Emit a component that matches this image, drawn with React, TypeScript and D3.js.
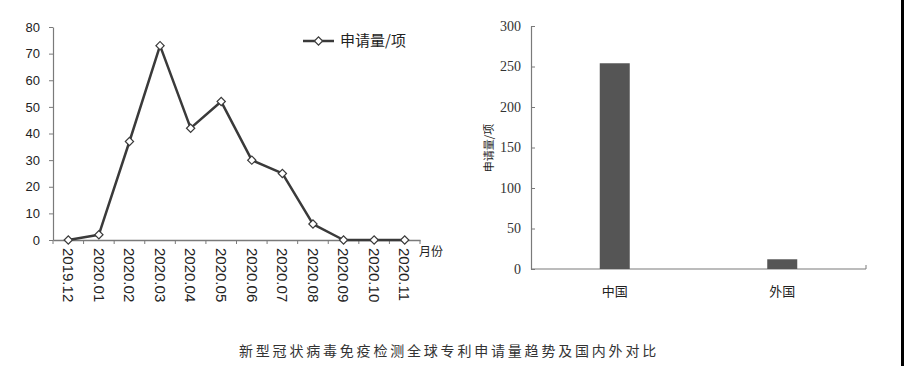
import { useEffect, useRef } from "react";
import * as d3 from "d3";

// monthly application counts (left chart)
const months = [
  "2019.12", "2020.01", "2020.02", "2020.03", "2020.04", "2020.05",
  "2020.06", "2020.07", "2020.08", "2020.09", "2020.10", "2020.11",
];
const counts = [0, 2, 37, 73, 42, 52, 30, 25, 6, 0, 0, 0];
const lineTicks = [0, 10, 20, 30, 40, 50, 60, 70, 80];

// domestic vs foreign (right chart)
const regions = ["中国", "外国"];
const regionCounts = [254, 12];
const barTicks = [0, 50, 100, 150, 200, 250, 300];

const seriesName = "申请量/项";
const caption = "新型冠状病毒免疫检测全球专利申请量趋势及国内外对比";

const W = 904;
const H = 366;
const SANS = "'Liberation Sans', 'Noto Sans CJK SC', sans-serif";
const CJK = "'Noto Sans CJK SC', sans-serif";
const SERIF = "'Liberation Serif', serif";

export default function App() {
  const svgRef = useRef<SVGSVGElement>(null);

  useEffect(() => {
    const svg = d3.select(svgRef.current!);
    svg.selectAll("*").remove();

    svg.append("rect").attr("width", W).attr("height", H).attr("fill", "#fff");
    svg.append("rect").attr("x", 901).attr("width", 3).attr("height", H).attr("fill", "#000");

    // ---- left: line chart ----
    const x = d3.scaleBand<string>().domain(months).range([53, 420]);
    const y = d3.scaleLinear().domain([0, 80]).range([240, 27]);
    const axisColor = "#7a7a7a";

    const yAx = svg
      .append("g")
      .attr("transform", "translate(53,0)")
      .call(d3.axisLeft(y).tickValues(lineTicks).tickSize(4).tickSizeOuter(0));
    yAx.select(".domain").attr("stroke", axisColor).attr("stroke-width", 1.2);
    yAx.selectAll("line").attr("stroke", axisColor);
    yAx.selectAll("text")
      .attr("x", -13)
      .attr("fill", "#222")
      .style("font-family", SANS)
      .style("font-size", "13px");

    const xAx = svg
      .append("g")
      .attr("transform", "translate(0,240)")
      .call(d3.axisBottom(x).tickSize(0).tickFormat(() => ""));
    xAx.select(".domain").attr("stroke", axisColor).attr("stroke-width", 1.5);
    // category boundary ticks
    const bounds = months.map((m) => x(m)!).concat([x.range()[1]]);
    xAx.selectAll("line.bnd")
      .data(bounds)
      .join("line")
      .attr("class", "bnd")
      .attr("x1", (d) => d)
      .attr("x2", (d) => d)
      .attr("y1", 0)
      .attr("y2", 4)
      .attr("stroke", axisColor);

    svg.append("g")
      .selectAll("text")
      .data(months)
      .join("text")
      .attr("transform", (d) => `translate(${x(d)! + x.bandwidth() / 2},248) rotate(90)`)
      .attr("dy", "0.35em")
      .attr("fill", "#222")
      .style("font-family", SANS)
      .style("font-size", "15px")
      .text((d) => d);

    svg.append("text")
      .attr("x", 419)
      .attr("y", 256)
      .attr("fill", "#222")
      .style("font-family", CJK)
      .style("font-size", "12px")
      .text("月份");

    const pts = months.map((m, i) => [x(m)! + x.bandwidth() / 2, y(counts[i])] as [number, number]);
    svg.append("path")
      .datum(pts)
      .attr("fill", "none")
      .attr("stroke", "#3a3a3a")
      .attr("stroke-width", 2.5)
      .attr("stroke-linejoin", "round")
      .attr("d", d3.line());

    const diamond = d3.symbol(d3.symbolSquare, 34)();
    svg.append("g")
      .selectAll("path")
      .data(pts)
      .join("path")
      .attr("transform", (d) => `translate(${d[0]},${d[1]}) rotate(45)`)
      .attr("d", diamond)
      .attr("fill", "#fff")
      .attr("stroke", "#3a3a3a")
      .attr("stroke-width", 1.2);

    // legend
    svg.append("line")
      .attr("x1", 303).attr("x2", 334).attr("y1", 41).attr("y2", 41)
      .attr("stroke", "#3a3a3a").attr("stroke-width", 2.5);
    svg.append("path")
      .attr("transform", "translate(318.5,41) rotate(45)")
      .attr("d", diamond)
      .attr("fill", "#fff")
      .attr("stroke", "#3a3a3a")
      .attr("stroke-width", 1.2);
    svg.append("text")
      .attr("x", 340)
      .attr("y", 41)
      .attr("dy", "0.35em")
      .attr("fill", "#222")
      .style("font-family", CJK)
      .style("font-size", "15px")
      .text(seriesName);

    // ---- right: bar chart ----
    const bx = d3.scaleBand<string>().domain(regions).range([531, 866]);
    const by = d3.scaleLinear().domain([0, 300]).range([269, 26]);
    const barW = 30;

    const byAx = svg
      .append("g")
      .attr("transform", "translate(531,0)")
      .call(d3.axisRight(by).tickValues(barTicks).tickSize(4).tickSizeOuter(0));
    byAx.select(".domain").attr("stroke", axisColor).attr("stroke-width", 1.2);
    byAx.selectAll("line").attr("stroke", axisColor);
    byAx.selectAll("text")
      .attr("x", -10)
      .attr("text-anchor", "end")
      .attr("fill", "#333")
      .style("font-family", SERIF)
      .style("font-size", "14px");

    svg.append("line")
      .attr("x1", 531).attr("x2", 866).attr("y1", 269).attr("y2", 269)
      .attr("stroke", axisColor).attr("stroke-width", 1.2);
    svg.append("line")
      .attr("x1", 866).attr("x2", 866).attr("y1", 265).attr("y2", 269)
      .attr("stroke", axisColor);

    svg.append("g")
      .selectAll("rect")
      .data(regions)
      .join("rect")
      .attr("x", (d) => bx(d)! + bx.bandwidth() / 2 - barW / 2)
      .attr("width", barW)
      .attr("y", (d, i) => by(regionCounts[i]))
      .attr("height", (d, i) => 269 - by(regionCounts[i]))
      .attr("fill", "#555");

    svg.append("g")
      .selectAll("text")
      .data(regions)
      .join("text")
      .attr("x", (d) => bx(d)! + bx.bandwidth() / 2)
      .attr("y", 291)
      .attr("dy", "0.35em")
      .attr("text-anchor", "middle")
      .attr("fill", "#222")
      .style("font-family", CJK)
      .style("font-size", "13px")
      .text((d) => d);

    svg.append("text")
      .attr("transform", "translate(489,148) rotate(-90)")
      .attr("dy", "0.35em")
      .attr("text-anchor", "middle")
      .attr("fill", "#222")
      .style("font-family", CJK)
      .style("font-size", "11px")
      .text(seriesName);

    // caption
    svg.append("text")
      .attr("x", 449)
      .attr("y", 351)
      .attr("dy", "0.35em")
      .attr("text-anchor", "middle")
      .attr("fill", "#333")
      .style("font-family", CJK)
      .style("font-size", "14px")
      .style("letter-spacing", "2.8px")
      .text(caption);
  }, []);

  return (
    <svg
      ref={svgRef}
      width={W}
      height={H}
      style={{ position: "absolute", left: 0, top: 0 }}
    />
  );
}
